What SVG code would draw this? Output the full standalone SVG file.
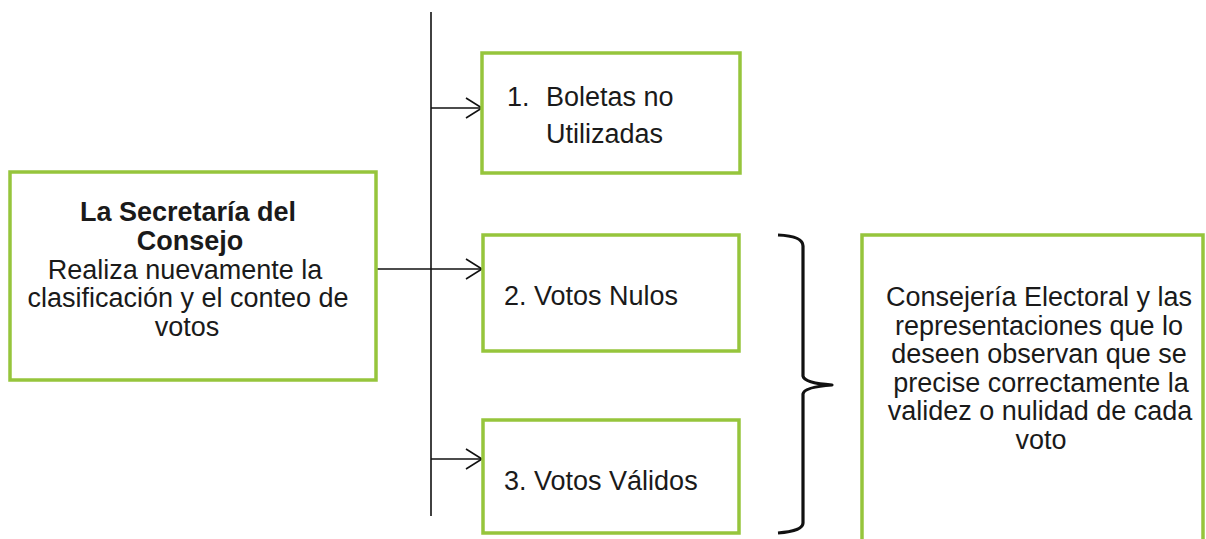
<svg xmlns="http://www.w3.org/2000/svg" width="1206" height="539" viewBox="0 0 1206 539">
<style>
.box{fill:#ffffff;stroke:#96c53c;stroke-width:3.5}
.t{font-family:"Liberation Sans",Arial,sans-serif;font-size:27px;fill:#1a1a1a}
.c{text-anchor:middle}
.b{font-weight:bold}
.ln{stroke:#111;stroke-width:1.6;fill:none}
.br{stroke:#111;stroke-width:3.2;fill:none;stroke-linejoin:round}
</style>
<defs>
<marker id="arr" markerWidth="20" markerHeight="24" refX="17" refY="12" orient="auto" markerUnits="userSpaceOnUse">
<path d="M1,2 L17,12 L1,22" fill="none" stroke="#111" stroke-width="1.6"/>
</marker>
</defs>
<rect width="1206" height="539" fill="#ffffff"/>
<g id="connectors">
<line class="ln" x1="431" y1="12" x2="431" y2="516"/>
<line class="ln" x1="376" y1="269" x2="431" y2="269"/>
<line class="ln" x1="431" y1="108" x2="482" y2="108" marker-end="url(#arr)"/>
<line class="ln" x1="431" y1="269" x2="482" y2="269" marker-end="url(#arr)"/>
<line class="ln" x1="431" y1="459" x2="482" y2="459" marker-end="url(#arr)"/>
<path id="bracket" class="br" d="M778,235 Q803,236 803,246 L803,376 Q804,383 832,385 Q804,387 803,394 L803,523 Q803,531 778,533"/>
</g>
<g id="secretaria">
<rect class="box" x="10" y="172" width="366" height="208"/>
<text class="t c b" x="188" y="221" font-size="27.5">La Secretaría del</text>
<text class="t c b" x="190" y="249.5" font-size="27.5">Consejo</text>
<text class="t c" x="185" y="278.5" font-size="27.5">Realiza nuevamente la</text>
<text class="t c" x="188" y="307" font-size="27.5">clasificación y el conteo de</text>
<text class="t c" x="187" y="335.5" font-size="27.5">votos</text>
</g>
<g id="boletas">
<rect class="box" x="482" y="53" width="258" height="120"/>
<text class="t" x="507" y="106">1.</text>
<text class="t" x="546" y="106">Boletas no</text>
<text class="t" x="546" y="143">Utilizadas</text>
</g>
<g id="nulos">
<rect class="box" x="483" y="235" width="256" height="116"/>
<text class="t" x="504" y="305">2. Votos Nulos</text>
</g>
<g id="validos">
<rect class="box" x="483" y="420" width="256" height="113"/>
<text class="t" x="504" y="490">3. Votos Válidos</text>
</g>
<g id="consejeria">
<rect class="box" x="862" y="235" width="341" height="312"/>
<text class="t c" x="1039" y="306">Consejería Electoral y las</text>
<text class="t c" x="1039" y="334.5">representaciones que lo</text>
<text class="t c" x="1039" y="363">deseen observan que se</text>
<text class="t c" x="1041" y="391.5">precise correctamente la</text>
<text class="t c" x="1040" y="420">validez o nulidad de cada</text>
<text class="t c" x="1041" y="448.5">voto</text>
</g>
</svg>
